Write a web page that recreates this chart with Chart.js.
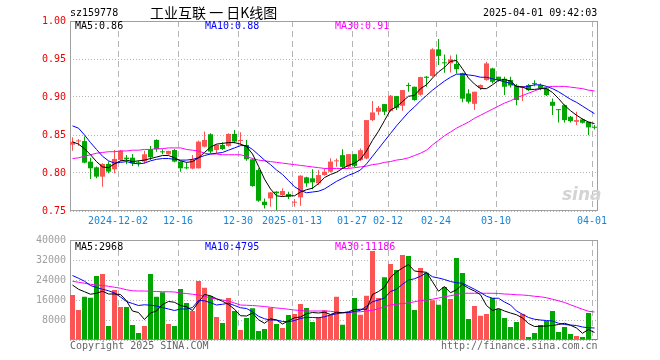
<!DOCTYPE html>
<html>
<head>
<meta charset="utf-8">
<script src="https://cdn.jsdelivr.net/npm/chart.js@4.4.1/dist/chart.umd.min.js"></script>
<style>
  body { margin: 0; width: 660px; height: 360px; background: #fff; position: relative; overflow: hidden; }
  canvas { position: absolute; left: 0; top: 0; }
  .t { position: absolute; font: 10px "DejaVu Sans Mono", monospace; line-height: 10px; white-space: pre; }
</style>
</head>
<body>
<canvas id="price" width="660" height="360"></canvas>
<canvas id="volume" width="660" height="360"></canvas>

<div class="t" style="left:70px; top:8px; color:#000">sz159778</div>
<div class="t" style="left:150px; top:5px; font:14px 'Noto Sans CJK SC'; line-height:14px; color:#000">工业互联 一 日K线图</div>
<div class="t" style="left:483px; top:8px; color:#000">2025-04-01 09:42:03</div>

<div class="t" style="left:75px; top:21px; color:#000">MA5:0.86</div>
<div class="t" style="left:205px; top:21px; color:#0000ff">MA10:0.88</div>
<div class="t" style="left:335px; top:21px; color:#ff00ff">MA30:0.91</div>

<div class="t" style="left:75px; top:242px; color:#000">MA5:2968</div>
<div class="t" style="left:205px; top:242px; color:#0000ff">MA10:4795</div>
<div class="t" style="left:335px; top:242px; color:#ff00ff">MA30:11186</div>

<div class="t" style="left:562px; top:186px; font:italic bold 17px 'DejaVu Sans'; line-height:17px; color:#d4d4d4">sina</div>

<div class="t" style="left:70px; top:341px; color:#666">Copyright 2025 SINA.COM</div>
<div class="t" style="left:441px; top:341px; color:#666">http://finance.sina.com.cn</div>

<script>
const dates = [
    '2024-11-20', '2024-11-21', '2024-11-22', '2024-11-25', '2024-11-26', '2024-11-27', '2024-11-28', '2024-11-29',
    '2024-12-02', '2024-12-03', '2024-12-04', '2024-12-05', '2024-12-06', '2024-12-09', '2024-12-10', '2024-12-11', '2024-12-12', '2024-12-13',
    '2024-12-16', '2024-12-17', '2024-12-18', '2024-12-19', '2024-12-20', '2024-12-23', '2024-12-24', '2024-12-25', '2024-12-26', '2024-12-27',
    '2024-12-30', '2024-12-31', '2025-01-02', '2025-01-03', '2025-01-06', '2025-01-07', '2025-01-08', '2025-01-09', '2025-01-10',
    '2025-01-13', '2025-01-14', '2025-01-15', '2025-01-16', '2025-01-17', '2025-01-20', '2025-01-21', '2025-01-22', '2025-01-23', '2025-01-24',
    '2025-01-27', '2025-02-05', '2025-02-06', '2025-02-07', '2025-02-10', '2025-02-11',
    '2025-02-12', '2025-02-13', '2025-02-14', '2025-02-17', '2025-02-18', '2025-02-19', '2025-02-20', '2025-02-21',
    '2025-02-24', '2025-02-25', '2025-02-26', '2025-02-27', '2025-02-28', '2025-03-03', '2025-03-04', '2025-03-05', '2025-03-06', '2025-03-07',
    '2025-03-10', '2025-03-11', '2025-03-12', '2025-03-13', '2025-03-14', '2025-03-17', '2025-03-18', '2025-03-19', '2025-03-20', '2025-03-21',
    '2025-03-24', '2025-03-25', '2025-03-26', '2025-03-27', '2025-03-28', '2025-03-31', '2025-04-01'
];

const tickDates = ['2024-12-02', '2024-12-16', '2024-12-30', '2025-01-13', '2025-01-27', '2025-02-12', '2025-02-24', '2025-03-10', '2025-04-01'];
const tickLabels = ['2024-12-02', '12-16', '12-30', '2025-01-13', '01-27', '02-12', '02-24', '03-10', '04-01'];

const openP = [
    0.8373, 0.8415, 0.8420, 0.8150, 0.8075, 0.7952, 0.8119, 0.8049, 0.8172, 0.8202,
    0.8202, 0.8141, 0.8150, 0.8312, 0.8435, 0.8277, 0.8246, 0.8303, 0.8150, 0.8066,
    0.8058, 0.8062, 0.8347, 0.8510, 0.8303, 0.8369, 0.8356, 0.8514, 0.8422, 0.8368,
    0.8180, 0.8039, 0.7622, 0.7666, 0.7755, 0.7710, 0.7723, 0.7609, 0.7680, 0.7943,
    0.7930, 0.7864, 0.7973, 0.8017, 0.8153, 0.8235, 0.8081, 0.8248, 0.8169, 0.8191,
    0.8696, 0.8806, 0.8907, 0.8815, 0.9012, 0.8885, 0.9157, 0.9135, 0.9030, 0.9267,
    0.9276, 0.9627, 0.9450, 0.9445, 0.9436, 0.9315, 0.9047, 0.8910, 0.9120, 0.9223,
    0.9376, 0.9267, 0.9240, 0.9223, 0.9150, 0.9126, 0.9157, 0.9180, 0.9157, 0.9113,
    0.8937, 0.8836, 0.8893, 0.8740, 0.8674, 0.8705, 0.8674, 0.8602
];
const highP = [
    0.8470, 0.8448, 0.8480, 0.8202, 0.8084, 0.8128, 0.8150, 0.8303, 0.8303, 0.8237,
    0.8250, 0.8163, 0.8294, 0.8356, 0.8444, 0.8312, 0.8294, 0.8316, 0.8150, 0.8137,
    0.8237, 0.8426, 0.8545, 0.8523, 0.8378, 0.8404, 0.8523, 0.8567, 0.8536, 0.8434,
    0.8193, 0.8061, 0.7666, 0.7750, 0.7759, 0.7798, 0.7754, 0.7657, 0.7970, 0.7951,
    0.8048, 0.8039, 0.8061, 0.8193, 0.8192, 0.8314, 0.8248, 0.8248, 0.8323, 0.8696,
    0.8946, 0.8880, 0.8907, 0.9025, 0.9012, 0.9091, 0.9188, 0.9135, 0.9267, 0.9276,
    0.9640, 0.9762, 0.9560, 0.9547, 0.9558, 0.9320, 0.9102, 0.9070, 0.9165, 0.9464,
    0.9386, 0.9267, 0.9267, 0.9267, 0.9170, 0.9143, 0.9170, 0.9222, 0.9178, 0.9135,
    0.8981, 0.8836, 0.8902, 0.8749, 0.8805, 0.8718, 0.8674, 0.8630
];
const lowP = [
    0.8294, 0.8356, 0.8128, 0.7921, 0.7930, 0.7820, 0.7996, 0.7996, 0.8150, 0.8115,
    0.8093, 0.8084, 0.8128, 0.8172, 0.8281, 0.8246, 0.8241, 0.8141, 0.8018, 0.8049,
    0.8049, 0.8058, 0.8338, 0.8260, 0.8260, 0.8303, 0.8347, 0.8391, 0.8369, 0.8162,
    0.7820, 0.7622, 0.7534, 0.7556, 0.7510, 0.7688, 0.7657, 0.7556, 0.7570, 0.7820,
    0.7785, 0.7842, 0.7965, 0.8008, 0.8082, 0.8059, 0.8059, 0.8080, 0.8156, 0.8182,
    0.8683, 0.8762, 0.8762, 0.8806, 0.8828, 0.8819, 0.9069, 0.8951, 0.9017, 0.9136,
    0.9267, 0.9420, 0.9318, 0.9324, 0.9310, 0.8930, 0.8916, 0.8828, 0.9091, 0.9214,
    0.9179, 0.9201, 0.9025, 0.9126, 0.8893, 0.8946, 0.9080, 0.9143, 0.9090, 0.9012,
    0.8762, 0.8665, 0.8665, 0.8665, 0.8630, 0.8652, 0.8498, 0.8573
];
const closeP = [
    0.8409, 0.8422, 0.8136, 0.8062, 0.7952, 0.8119, 0.8018, 0.8185, 0.8294, 0.8185,
    0.8128, 0.8128, 0.8246, 0.8207, 0.8312, 0.8272, 0.8290, 0.8150, 0.8062, 0.8062,
    0.8180, 0.8413, 0.8435, 0.8282, 0.8369, 0.8316, 0.8514, 0.8413, 0.8435, 0.8180,
    0.7828, 0.7635, 0.7578, 0.7745, 0.7733, 0.7763, 0.7688, 0.7613, 0.7965, 0.7864,
    0.7877, 0.7973, 0.8017, 0.8150, 0.8162, 0.8081, 0.8248, 0.8094, 0.8300, 0.8696,
    0.8797, 0.8858, 0.8806, 0.9017, 0.8858, 0.9091, 0.9144, 0.8960, 0.9262, 0.9252,
    0.9627, 0.9541, 0.9443, 0.9495, 0.9366, 0.8978, 0.8938, 0.9069, 0.9157, 0.9442,
    0.9200, 0.9223, 0.9135, 0.9150, 0.8960, 0.9143, 0.9090, 0.9170, 0.9113, 0.9025,
    0.8884, 0.8827, 0.8696, 0.8683, 0.8696, 0.8661, 0.8600, 0.8595
];

const ma5 = [
    0.841, 0.838, 0.832, 0.824, 0.815, 0.808, 0.807, 0.812, 0.816, 0.817,
    0.815, 0.816, 0.817, 0.819, 0.821, 0.823, 0.823, 0.820, 0.816, 0.814,
    0.815, 0.820, 0.827, 0.834, 0.838, 0.839, 0.840, 0.840, 0.838, 0.835,
    0.825, 0.809, 0.792, 0.779, 0.770, 0.769, 0.770, 0.770, 0.775, 0.778,
    0.780, 0.786, 0.794, 0.798, 0.801, 0.806, 0.810, 0.813, 0.818, 0.829,
    0.843, 0.855, 0.869, 0.883, 0.887, 0.894, 0.901, 0.902, 0.911, 0.916,
    0.925, 0.933, 0.939, 0.947, 0.948, 0.937, 0.925, 0.917, 0.911, 0.911,
    0.916, 0.922, 0.923, 0.921, 0.914, 0.913, 0.910, 0.910, 0.911, 0.911,
    0.906, 0.898, 0.889, 0.882, 0.876, 0.871, 0.867, 0.865
];
const ma10 = [
    0.862, 0.859, 0.850, 0.840, 0.831, 0.822, 0.816, 0.813, 0.814, 0.815,
    0.813, 0.812, 0.813, 0.816, 0.818, 0.819, 0.819, 0.818, 0.817, 0.817,
    0.818, 0.820, 0.823, 0.825, 0.826, 0.827, 0.830, 0.833, 0.836, 0.836,
    0.831, 0.824, 0.817, 0.811, 0.804, 0.798, 0.790, 0.782, 0.777, 0.774,
    0.775, 0.776, 0.779, 0.784, 0.789, 0.793, 0.797, 0.800, 0.804, 0.812,
    0.822, 0.832, 0.842, 0.852, 0.862, 0.871, 0.880, 0.887, 0.895, 0.902,
    0.909, 0.915, 0.921, 0.926, 0.930, 0.930, 0.929, 0.928, 0.926, 0.926,
    0.924, 0.922, 0.920, 0.918, 0.914, 0.913, 0.914, 0.916, 0.916, 0.914,
    0.911, 0.907, 0.902, 0.897, 0.893, 0.888, 0.883, 0.878
];
const ma30 = [
    0.819, 0.820, 0.822, 0.824, 0.826, 0.827, 0.828, 0.828, 0.829, 0.829,
    0.830, 0.830, 0.831, 0.831, 0.832, 0.832, 0.833, 0.833, 0.833, 0.831,
    0.830, 0.829, 0.826, 0.825, 0.825, 0.824, 0.824, 0.824, 0.824, 0.822,
    0.819, 0.817, 0.816, 0.815, 0.814, 0.813, 0.812, 0.811, 0.810, 0.809,
    0.808, 0.807, 0.806, 0.806, 0.806, 0.806, 0.806, 0.807, 0.808, 0.809,
    0.811, 0.812, 0.814, 0.815, 0.817, 0.818, 0.820, 0.823, 0.826, 0.830,
    0.837, 0.843, 0.849, 0.854, 0.859, 0.863, 0.867, 0.872, 0.876, 0.880,
    0.884, 0.888, 0.892, 0.895, 0.899, 0.902, 0.905, 0.908, 0.911, 0.913,
    0.914, 0.914, 0.914, 0.913, 0.912, 0.911, 0.909, 0.908
];

const volume = [
    18000, 12000, 17300, 16900, 25600, 26400, 5600, 20000, 13200, 13200,
    6000, 2800, 5600, 26400, 17300, 19100, 6400, 5600, 20400, 14800,
    11600, 23600, 20900, 17600, 9200, 6800, 16800, 11600, 4000, 8800,
    12700, 3600, 4400, 12900, 6400, 4800, 10000, 10400, 14400, 12800,
    7200, 9200, 11900, 10000, 17300, 6100, 11000, 16800, 10100, 17700,
    35600, 16800, 25100, 30400, 28000, 34000, 33600, 12000, 28800, 26900,
    15900, 14100, 21200, 16400, 32800, 26800, 8400, 13600, 9700, 10400,
    16800, 12400, 8800, 5200, 7200, 10400, 1200, 2800, 6000, 7600,
    11600, 3200, 5200, 2400, 1600, 1200, 10800, 400
];
const volMa5 = [
    22000, 20300, 19300, 18300, 18700, 19500, 18400, 18400, 18200, 15700,
    11600, 11000, 8200, 10800, 11600, 14200, 15400, 15100, 13800, 13300,
    11800, 15200, 18200, 17700, 16500, 15500, 14200, 12300, 9700, 9600,
    10800, 8100, 6700, 8500, 8000, 6400, 7700, 8900, 9200, 10500,
    11000, 10800, 11100, 10200, 11100, 10900, 11300, 12200, 12300, 12300,
    18200, 19400, 21100, 25100, 27200, 28800, 30200, 27600, 27300, 27100,
    23300, 19500, 21400, 18900, 20100, 22300, 20700, 19600, 18100, 13800,
    11800, 12600, 11600, 10800, 10100, 8800, 6600, 5400, 5500, 5600,
    5800, 6200, 6700, 5900, 4800, 2700, 4200, 3000
];
const volMa10 = [
    25800, 24700, 23500, 21800, 21000, 20300, 19700, 18800, 17200, 15400,
    14600, 13800, 14100, 13900, 13600, 13000, 12400, 11800, 12400, 12400,
    13000, 15800, 15700, 14900, 14000, 14300, 14700, 13800, 12900, 12600,
    11300, 9500, 8500, 8000, 8000, 7400, 7300, 7800, 8600, 9100,
    9000, 8900, 9300, 10000, 10500, 10900, 11000, 11400, 11900, 13500,
    15300, 16000, 16800, 19400, 20300, 22300, 24000, 24500, 25500, 26900,
    25300, 24800, 24200, 23400, 22900, 22700, 21500, 20300, 19000, 17500,
    16700, 16700, 15200, 14000, 11600, 10300, 9000, 8300, 8000, 7800,
    7600, 6700, 6200, 6000, 5800, 5200, 4900, 4800
];
const volMa30 = [
    23500, 23100, 22700, 22300, 22000, 21800, 21500, 21100, 20700, 20100,
    19700, 19600, 19600, 19500, 19400, 19300, 19300, 19200, 18800, 18600,
    18300, 18000, 17500, 16800, 16400, 16000, 15600, 14800, 14000, 13900,
    13800, 13600, 13400, 13100, 12800, 12600, 12300, 12000, 11800, 11600,
    11600, 11600, 11600, 11500, 11200, 10900, 11000, 11200, 11300, 11600,
    11900, 12500, 13300, 14000, 14300, 14600, 14800, 15300, 15800, 16000,
    16300, 16800, 17300, 17700, 18200, 18700, 18700, 18700, 18700, 18700,
    18700, 18600, 18400, 18300, 18100, 18000, 17800, 17500, 17300, 16900,
    16300, 15700, 15000, 14100, 13200, 12300, 11500, 11200
];

const RED = '#fa5454';
const GREEN = '#02a602';
const GRID = '#b4b4b4';

const barColors = dates.map((d, i) => closeP[i] >= openP[i] ? RED : GREEN);
const tickIdx = tickDates.map(d => dates.indexOf(d));

// each trading day is one unit on a linear axis; the shift puts the grid line on the body's left edge
const SHIFT = 0.4167;

Chart.defaults.font.family = '"DejaVu Sans Mono", monospace';
Chart.defaults.font.size = 10;
Chart.defaults.animation = false;

const framePlugin = {
    id: 'frame',
    beforeDatasetsDraw(chart) {
        const a = chart.chartArea;
        const ctx = chart.ctx;
        ctx.save();
        ctx.strokeStyle = '#a0a0a0';
        ctx.lineWidth = 1;
        ctx.strokeRect(Math.round(a.left) + 0.5, Math.round(a.top) + 0.5,
            Math.round(a.right - a.left) - 1, Math.round(a.bottom - a.top) - 1);
        ctx.restore();
    }
};

function xScale(showLabels) {
    return {
        type: 'linear',
        bounds: 'data',
        offset: false,
        min: -SHIFT,
        max: dates.length - 1 + (1 - SHIFT),
        afterBuildTicks: (scale) => {
            scale.ticks = tickIdx.map(i => ({ value: i - SHIFT }));
        },
        afterFit: (scale) => {
            scale.height = showLabels ? 20 : 0;
        },
        ticks: {
            display: showLabels,
            autoSkip: false,
            maxRotation: 0,
            color: '#1a86d6',
            padding: 4,
            callback: (value, index) => tickLabels[index]
        },
        grid: { color: GRID, drawTicks: false, offset: false },
        border: { display: false, dash: [6, 4] }
    };
}

function line(values, color) {
    return {
        type: 'line',
        data: values.map((v, i) => ({ x: i, y: v })),
        borderColor: color,
        borderWidth: 1,
        pointRadius: 0,
        tension: 0,
        fill: false,
        order: 0
    };
}

const priceConfig = {
    type: 'bar',
    data: {
        datasets: [
            line(ma5, '#000000'),
            line(ma10, '#0000ff'),
            line(ma30, '#ff00ff'),
            {
                data: dates.map((d, i) => ({ x: i, y: [openP[i], closeP[i]] })),
                backgroundColor: barColors,
                barThickness: 5,
                minBarLength: 1,
                inflateAmount: 0,
                grouped: false,
                order: 1
            },
            {
                data: dates.map((d, i) => ({ x: i, y: [lowP[i], highP[i]] })),
                backgroundColor: barColors,
                barThickness: 1,
                inflateAmount: 0,
                grouped: false,
                order: 2
            }
        ]
    },
    options: {
        responsive: false,
        layout: { padding: { left: 0, right: 62, top: 21, bottom: 129 } },
        plugins: { legend: { display: false }, tooltip: { enabled: false } },
        scales: {
            x: xScale(true),
            y: {
                min: 0.75,
                max: 1.0,
                afterFit: (scale) => { scale.width = 70; },
                ticks: {
                    stepSize: 0.05,
                    color: '#f00000',
                    padding: 4,
                    callback: (v) => v.toFixed(2)
                },
                grid: { color: GRID, drawTicks: false },
                border: { display: false, dash: [1, 2] }
            }
        }
    },
    plugins: [framePlugin]
};

const volumeConfig = {
    type: 'bar',
    data: {
        datasets: [
            line(volMa5, '#000000'),
            line(volMa10, '#0000ff'),
            line(volMa30, '#ff00ff'),
            {
                data: dates.map((d, i) => ({ x: i, y: volume[i] })),
                backgroundColor: barColors,
                barThickness: 5,
                inflateAmount: 0,
                grouped: false,
                order: 1
            }
        ]
    },
    options: {
        responsive: false,
        layout: { padding: { left: 0, right: 62, top: 240, bottom: 20 } },
        plugins: { legend: { display: false }, tooltip: { enabled: false } },
        scales: {
            x: xScale(false),
            y: {
                min: 0,
                max: 40000,
                afterFit: (scale) => { scale.width = 70; },
                ticks: {
                    stepSize: 8000,
                    color: '#a0a0a0',
                    padding: 4,
                    callback: (v) => v === 0 ? '' : String(v)
                },
                grid: { color: GRID, drawTicks: false },
                border: { display: false, dash: [1, 2] }
            }
        }
    },
    plugins: [framePlugin]
};

const priceChart = new Chart(document.getElementById('price').getContext('2d'), priceConfig);
const volumeChart = new Chart(document.getElementById('volume').getContext('2d'), volumeConfig);
</script>
</body>
</html>
